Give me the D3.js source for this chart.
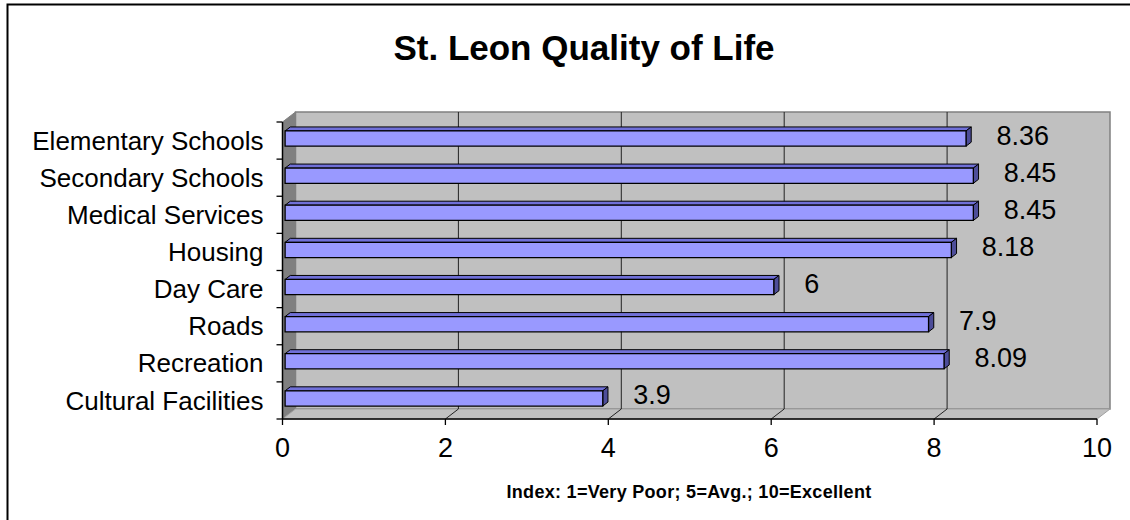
<!DOCTYPE html>
<html>
<head>
<meta charset="utf-8">
<script src="https://cdn.jsdelivr.net/npm/d3@7"></script>
<style>
  body { margin: 0; background: #fff; }
  text { font-family: Arial, "Liberation Sans", sans-serif; fill: #000; }
</style>
</head>
<body>
<svg width="1130" height="520"></svg>
<script>
// chart data
const categories = ["Elementary Schools", "Secondary Schools", "Medical Services", "Housing",
                    "Day Care", "Roads", "Recreation", "Cultural Facilities"];
const values = [8.36, 8.45, 8.45, 8.18, 6, 7.9, 8.09, 3.9];
const tickValues = [0, 2, 4, 6, 8, 10];
const chartTitle = "St. Leon Quality of Life";
const axisTitle = "Index: 1=Very Poor; 5=Avg.; 10=Excellent";

const svg = d3.select("svg");

// chart area border (runs off the right/bottom edge like the original)
svg.append("rect")
    .attr("x", 7.5).attr("y", 4.5)
    .attr("width", 1200).attr("height", 600)
    .attr("fill", "#fff").attr("stroke", "#000").attr("stroke-width", 2);

// front plane scales
const x = d3.scaleLinear().domain([0, 10]).range([282.5, 1097]);
const y = d3.scaleBand().domain(categories).range([122, 419]);

// 3d depth offset of the back wall
const DX = 13, DY = -10;
const off = f => [f * DX, f * DY];

const x0 = x(0), x1 = x(10), yTop = y.range()[0], yBot = y.range()[1];
const poly = pts => "M" + pts.map(p => p.join(",")).join("L") + "Z";

// back wall
svg.append("path")
    .attr("d", poly([[x0 + DX, yTop + DY], [x1 + DX, yTop + DY], [x1 + DX, yBot + DY], [x0 + DX, yBot + DY]]))
    .attr("fill", "#c0c0c0").attr("stroke", "#808080").attr("stroke-width", 1.5);

// side wall
svg.append("path")
    .attr("d", poly([[x0, yTop], [x0 + DX, yTop + DY], [x0 + DX, yBot + DY], [x0, yBot]]))
    .attr("fill", "#808080").attr("stroke", "#808080");

// floor
svg.append("path")
    .attr("d", poly([[x0, yBot], [x0 + DX, yBot + DY], [x1 + DX, yBot + DY], [x1, yBot]]))
    .attr("fill", "#c0c0c0").attr("stroke", "#a0a0a0");

// gridlines on back wall and floor
const grid = tickValues.filter(t => t > 0 && t < 10);
svg.selectAll(".grid")
    .data(grid)
  .enter().append("path")
    .attr("class", "grid")
    .attr("d", t => "M" + x(t) + "," + yBot
        + "L" + (x(t) + DX) + "," + (yBot + DY)
        + "L" + (x(t) + DX) + "," + (yTop + DY))
    .attr("fill", "none").attr("stroke", "#222").attr("stroke-width", 1);

// bars as 3d boxes
const f0 = 0.2, f1 = 0.6;
const barH = y.bandwidth() * 0.41;
const bars = svg.selectAll(".bar")
    .data(categories.map((c, i) => ({ c, v: values[i] })))
  .enter().append("g")
    .attr("class", "bar");

bars.each(function(d) {
    const g = d3.select(this);
    const yc = y(d.c) + y.bandwidth() / 2;
    const t = yc - barH / 2, b = yc + barH / 2;
    const xs = x(0), xe = x(d.v);
    const [ax, ay] = off(f0), [bx, by] = off(f1);
    // top face
    g.append("path")
        .attr("d", poly([[xs + ax, t + ay], [xe + ax, t + ay], [xe + bx, t + by], [xs + bx, t + by]]))
        .attr("fill", "#7070d8").attr("stroke", "#000").attr("stroke-width", 1);
    // end face
    g.append("path")
        .attr("d", poly([[xe + ax, t + ay], [xe + bx, t + by], [xe + bx, b + by], [xe + ax, b + ay]]))
        .attr("fill", "#4d4d99").attr("stroke", "#000").attr("stroke-width", 1);
    // front face
    g.append("path")
        .attr("d", poly([[xs + ax, t + ay], [xe + ax, t + ay], [xe + ax, b + ay], [xs + ax, b + ay]]))
        .attr("fill", "#9999ff").attr("stroke", "#000").attr("stroke-width", 1.3);
});

// value labels
svg.selectAll(".val")
    .data(categories.map((c, i) => ({ c, v: values[i] })))
  .enter().append("text")
    .attr("class", "val")
    .attr("x", d => x(d.v) + 33)
    .attr("y", d => y(d.c) + y.bandwidth() / 2 + 4)
    .attr("font-size", 27)
    .text(d => d.v);

// axes lines
svg.append("line")
    .attr("x1", x0).attr("x2", x0).attr("y1", yTop).attr("y2", yBot)
    .attr("stroke", "#000").attr("stroke-width", 1.5);
svg.append("line")
    .attr("x1", x0).attr("x2", x1).attr("y1", yBot).attr("y2", yBot)
    .attr("stroke", "#000").attr("stroke-width", 1.5);

// category ticks (band boundaries)
const bounds = categories.map(c => y(c)).concat([yBot]);
svg.selectAll(".ytick")
    .data(bounds)
  .enter().append("line")
    .attr("x1", x0 - 6).attr("x2", x0).attr("y1", d => d).attr("y2", d => d)
    .attr("stroke", "#000").attr("stroke-width", 1.3);

svg.selectAll(".ylab")
    .data(categories)
  .enter().append("text")
    .attr("x", x0 - 19)
    .attr("y", d => y(d) + y.bandwidth() / 2)
    .attr("dy", "0.35em")
    .attr("text-anchor", "end")
    .attr("font-size", 26)
    .text(d => d);

// value ticks
svg.selectAll(".xtick")
    .data(tickValues)
  .enter().append("line")
    .attr("x1", d => x(d)).attr("x2", d => x(d)).attr("y1", yBot).attr("y2", yBot + 6)
    .attr("stroke", "#000").attr("stroke-width", 1.3);

svg.selectAll(".xlab")
    .data(tickValues)
  .enter().append("text")
    .attr("x", d => x(d))
    .attr("y", 457)
    .attr("text-anchor", "middle")
    .attr("font-size", 27)
    .text(d => d);

// titles
svg.append("text")
    .attr("x", 584).attr("y", 60)
    .attr("text-anchor", "middle")
    .attr("font-size", 35).attr("font-weight", "bold")
    .text(chartTitle);

svg.append("text")
    .attr("x", 689).attr("y", 498)
    .attr("text-anchor", "middle")
    .attr("font-size", 18).attr("font-weight", "bold")
    .attr("letter-spacing", 0.3)
    .text(axisTitle);
</script>
</body>
</html>
